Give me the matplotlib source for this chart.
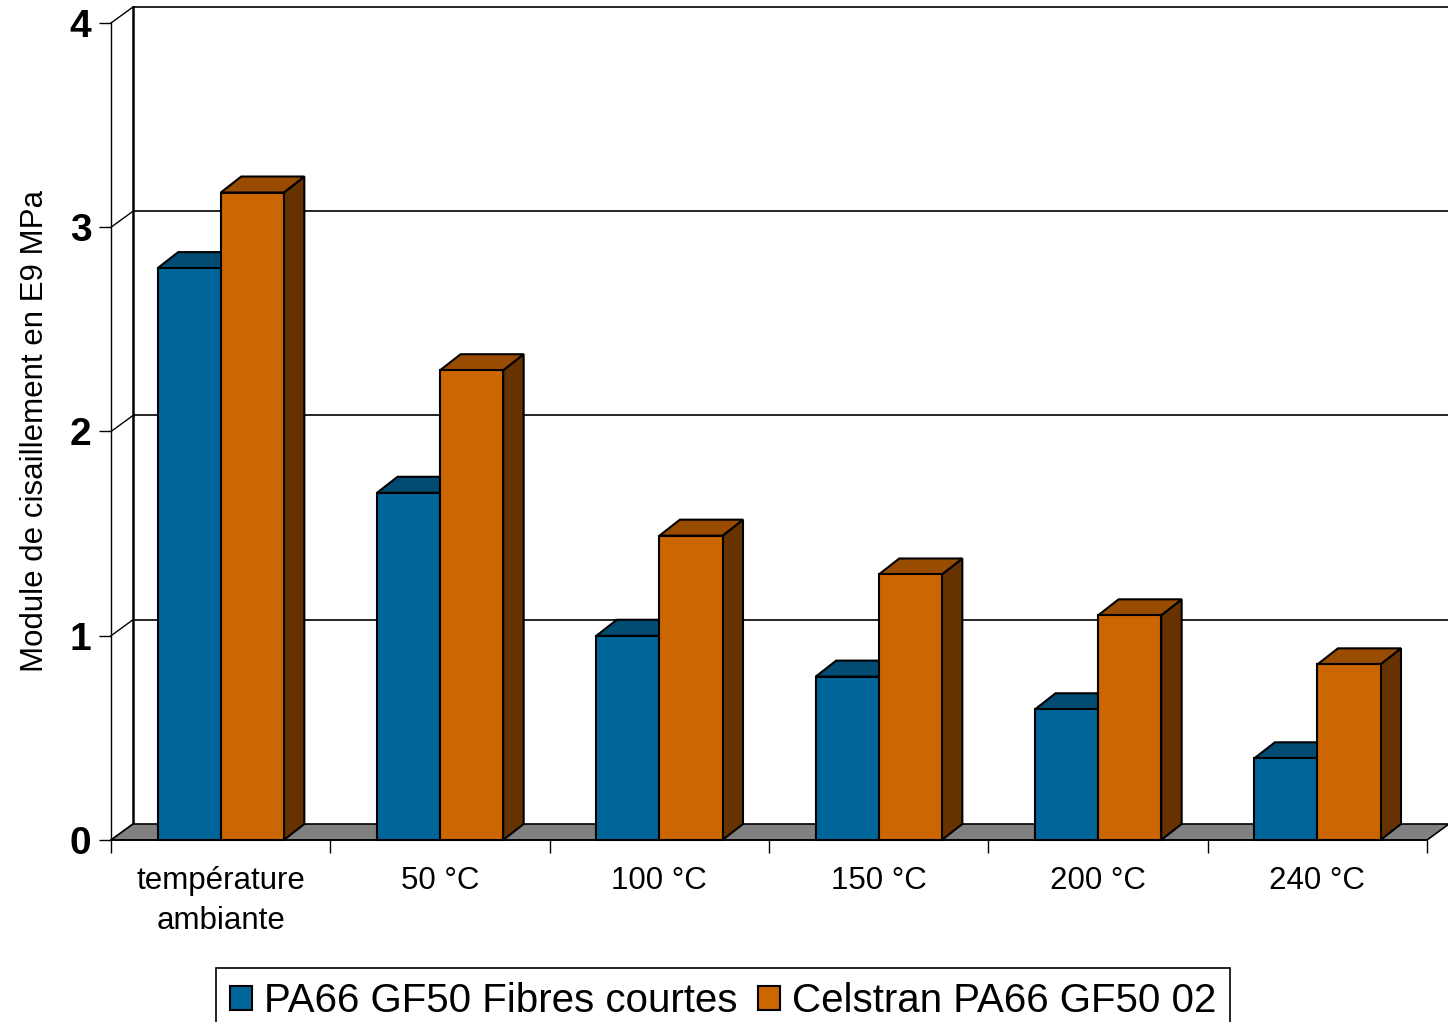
import matplotlib
matplotlib.use("Agg")
import matplotlib.pyplot as plt
from matplotlib.patches import Polygon, Patch

# ---------------- data ----------------
categories = ["température\nambiante", "50 °C", "100 °C", "150 °C", "200 °C", "240 °C"]
series_names = ["PA66 GF50 Fibres courtes", "Celstran PA66 GF50 02"]
fibres_courtes = [2.80, 1.70, 1.00, 0.80, 0.64, 0.40]
celstran = [3.17, 2.30, 1.49, 1.30, 1.10, 0.86]
y_ticks = [0, 1, 2, 3, 4]
y_label = "Module de cisaillement en E9 MPa"

# ---------------- style ----------------
plt.rcParams['font.family'] = ['Liberation Sans', 'DejaVu Sans']
front_colors = ['#006699', '#CC6600']
top_colors = ['#004C73', '#994C00']
side_colors = ['#003A59', '#663300']
floor_color = '#808080'

W, H = 1448, 1022
fig = plt.figure(figsize=(W / 100, H / 100), dpi=100)
x0, x1 = 111, 1427
y0, y1 = 840, 23
ax = fig.add_axes([x0 / W, 1 - y0 / H, (x1 - x0) / W, (y0 - y1) / H])
n = len(categories)
ymax = y_ticks[-1]
ax.set_xlim(0, n)
ax.set_ylim(0, ymax)
px_x = (x1 - x0) / n
px_y = (y0 - y1) / ymax
wdx, wdy = 22 / px_x, 16 / px_y      # wall depth
bdx, bdy = 20.5 / px_x, 16 / px_y    # bar depth

for s in ['top', 'right']:
    ax.spines[s].set_visible(False)
ax.spines['left'].set_linewidth(1.0)
ax.spines['bottom'].set_linewidth(1.2)
ax.patch.set_visible(False)

# back wall gridlines and left wall diagonals
for v in y_ticks:
    if v > 0:
        ax.plot([wdx, n + wdx], [v + wdy, v + wdy], color='black', lw=1.2,
                clip_on=False, zorder=1, solid_capstyle='butt')
    ax.plot([0, wdx], [v, v + wdy], color='black', lw=1.0, clip_on=False, zorder=1)
ax.plot([wdx, wdx], [wdy, ymax + wdy], color='black', lw=1.8, clip_on=False, zorder=1)

# floor
ax.add_patch(Polygon([(0, 0), (n, 0), (n + wdx, wdy), (wdx, wdy)], closed=True,
                     facecolor=floor_color, edgecolor='black', lw=1.2,
                     clip_on=False, zorder=2))

# bars
offset, width = 0.213, 0.2875


def bar3d(x, w, h, k):
    kw = dict(closed=True, edgecolor='black', lw=1.5, clip_on=False, zorder=3,
              joinstyle='miter')
    ax.add_patch(Polygon([(x + w, 0), (x + w + bdx, bdy), (x + w + bdx, h + bdy), (x + w, h)],
                         facecolor=side_colors[k], **kw))
    ax.add_patch(Polygon([(x, h), (x + w, h), (x + w + bdx, h + bdy), (x + bdx, h + bdy)],
                         facecolor=top_colors[k], **kw))
    ax.add_patch(Polygon([(x, 0), (x + w, 0), (x + w, h), (x, h)],
                         facecolor=front_colors[k], **kw))


for i in range(n):
    for k, vals in enumerate([fibres_courtes, celstran]):
        bar3d(i + offset + k * width, width, vals[i], k)

# axes ticks
ax.set_yticks(y_ticks)
ax.set_yticklabels([str(v) for v in y_ticks], fontsize=28, fontweight='bold')
ax.tick_params(axis='y', length=9, width=1.0, pad=5)
ax.set_xticks(range(n + 1))
ax.set_xticklabels([''] * (n + 1))
ax.tick_params(axis='x', which='major', length=9, width=1.0)
ax.set_xticks([i + 0.5 for i in range(n)], minor=True)
ax.set_xticklabels(categories, minor=True, fontsize=22.5, linespacing=1.4)
ax.tick_params(axis='x', which='minor', length=0, pad=19)
ax.set_ylabel(y_label, fontsize=22.5, labelpad=14)

# legend
handles = [Patch(facecolor=front_colors[k], edgecolor='black', lw=1.5) for k in range(2)]
leg = fig.legend(handles, series_names, loc='upper center',
                 bbox_to_anchor=(723 / W, 1 - 968 / H), ncol=2, fontsize=29,
                 frameon=True, fancybox=False, edgecolor='black', framealpha=1,
                 handlelength=0.55, handleheight=0.55, handletextpad=0.3,
                 columnspacing=0.5, borderpad=0.35, borderaxespad=0)
leg.get_frame().set_linewidth(1.2)

fig.savefig('out.png', dpi=100)
